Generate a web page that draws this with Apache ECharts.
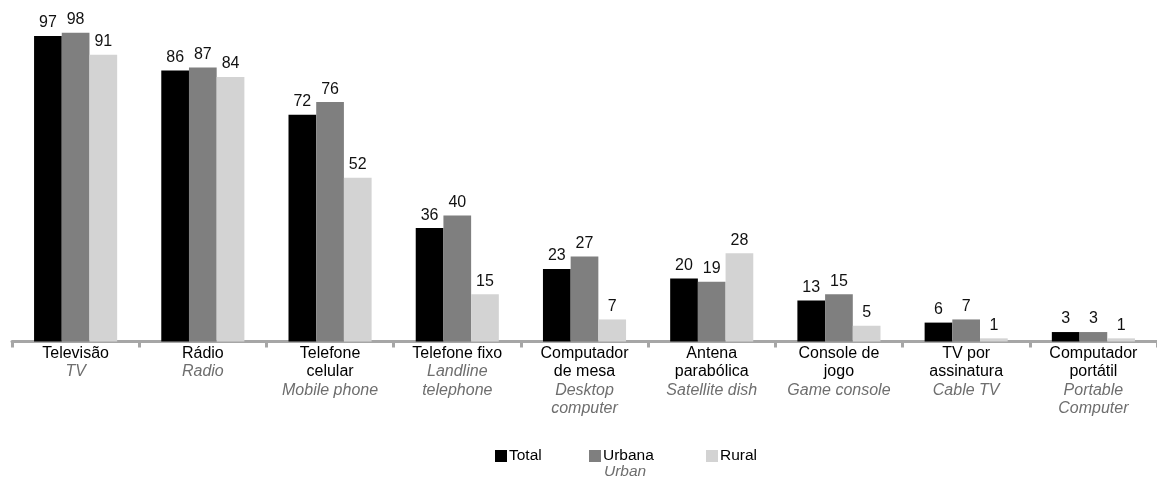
<!DOCTYPE html>
<html>
<head>
<meta charset="utf-8">
<script src="https://cdn.jsdelivr.net/npm/echarts@6/dist/echarts.min.js"></script>
<style>html,body{margin:0;padding:0;background:#fff}#c{width:1157px;height:477px}</style>
</head>
<body>
<div id="c"></div>
<script>
var catPt = ['Televisão', 'Rádio', 'Telefone\ncelular', 'Telefone fixo', 'Computador\nde mesa', 'Antena\nparabólica', 'Console de\njogo', 'TV por\nassinatura', 'Computador\nportátil'];
var catEn = ['TV', 'Radio', 'Mobile phone', 'Landline\ntelephone', 'Desktop\ncomputer', 'Satellite dish', 'Game console', 'Cable TV', 'Portable\nComputer'];
var totalVals = [97, 86, 72, 36, 23, 20, 13, 6, 3];
var urbanaVals = [98, 87, 76, 40, 27, 19, 15, 7, 3];
var ruralVals = [91, 84, 52, 15, 7, 28, 5, 1, 1];
var seriesNames = ['Total', 'Urbana', 'Rural'];

var FONT = 'Liberation Sans, Arial, sans-serif';
var colors = ['#000000', '#7f7f7f', '#d3d3d3'];
var cats = catPt.map(function (p, i) { return i; });

function makeSeries(name, data, color) {
  return {
    name: name, type: 'bar', data: data, barWidth: 27.7, barGap: '0%',
    itemStyle: { color: color },
    label: { show: true, position: 'top', distance: 5, color: '#111', fontSize: 16, fontFamily: FONT }
  };
}
function legendAt(name, left) {
  return {
    data: [name], left: left, top: 448, itemWidth: 12, itemHeight: 12, icon: 'rect',
    padding: 0, selectedMode: false,
    textStyle: { color: '#000', fontSize: 15.5, fontFamily: FONT, padding: [0, 0, 0, -3] }
  };
}
var chart = echarts.init(document.getElementById('c'));
chart.setOption({
  animation: false,
  color: colors,
  grid: { left: 12, right: -7, top: 26.5, bottom: 135.5, containLabel: false },
  xAxis: {
    type: 'category', data: cats,
    axisLine: { lineStyle: { color: '#a6a6a6', width: 3 } },
    axisTick: { show: true, length: 6, lineStyle: { color: '#a6a6a6', width: 3 } },
    axisLabel: {
      interval: 0, margin: 3,
      formatter: function (v) {
        var i = +v;
        var pt = catPt[i].split('\n').map(function (s) { return '{pt|' + s + '}'; }).join('\n');
        var en = catEn[i].split('\n').map(function (s) { return '{en|' + s + '}'; }).join('\n');
        return pt + '\n' + en;
      },
      rich: {
        pt: { fontSize: 16, color: '#000', fontFamily: FONT, lineHeight: 18.3 },
        en: { fontSize: 16, color: '#6e6e6e', fontStyle: 'italic', fontFamily: FONT, lineHeight: 18.3 }
      }
    }
  },
  yAxis: { type: 'value', min: 0, max: 100, show: false, splitLine: { show: false } },
  legend: [legendAt('Total', 495), legendAt('Urbana', 589), legendAt('Rural', 706)],
  graphic: [{
    type: 'text', left: 604, top: 464,
    style: { text: 'Urban', fill: '#6e6e6e', fontSize: 15.5, fontStyle: 'italic', fontFamily: FONT }
  }],
  series: [
    makeSeries(seriesNames[0], totalVals, colors[0]),
    makeSeries(seriesNames[1], urbanaVals, colors[1]),
    makeSeries(seriesNames[2], ruralVals, colors[2])
  ]
});
</script>
</body>
</html>
